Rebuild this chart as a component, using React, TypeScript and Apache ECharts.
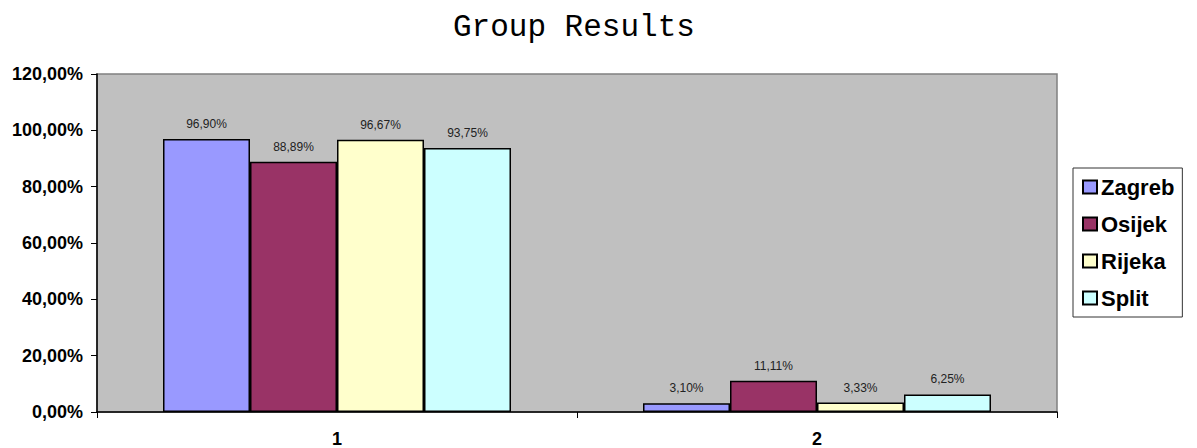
import React, { useEffect, useRef } from "react";
import * as echarts from "echarts";

const categories = ["1", "2"];
const seriesNames = ["Zagreb", "Osijek", "Rijeka", "Split"];
const zagreb = [96.9, 3.1];
const osijek = [88.89, 11.11];
const rijeka = [96.67, 3.33];
const split = [93.75, 6.25];
const colors = ["#9999FF", "#993366", "#FFFFCC", "#CCFFFF"];

const fmt = (v: number) => v.toFixed(2).replace(".", ",") + "%";

export default function App() {
  const ref = useRef<HTMLDivElement>(null);
  useEffect(() => {
    const chart = echarts.init(ref.current!, null, { renderer: "svg" });
    const values = [zagreb, osijek, rijeka, split];
    chart.setOption({
      animation: false,
      backgroundColor: "#ffffff",
      title: {
        text: "Group Results",
        left: 453,
        top: 12,
        padding: 0,
        textStyle: {
          fontFamily: "Liberation Mono",
          fontSize: 31,
          fontWeight: "normal",
          color: "#000",
        },
      },
      legend: {
        orient: "vertical",
        left: 1073,
        top: 168,
        padding: [8, 8, 8, 9],
        itemGap: 15,
        itemWidth: 14,
        itemHeight: 13,
        icon: "rect",
        borderColor: "#333",
        borderWidth: 1,
        backgroundColor: "#fff",
        textStyle: {
          fontFamily: "Liberation Sans, Arial",
          fontSize: 22,
          fontWeight: "bold",
          color: "#000",
          padding: [0, 0, 0, -1],
          lineHeight: 21,
        },
        data: seriesNames,
      },
      grid: {
        left: 97,
        top: 74,
        width: 960,
        height: 339,
        show: true,
        backgroundColor: "#C0C0C0",
        borderColor: "#808080",
        borderWidth: 1.5,
      },
      xAxis: {
        type: "category",
        data: categories,
        axisLine: { lineStyle: { color: "#000", width: 1.5 } },
        axisTick: { show: true, length: 6, lineStyle: { color: "#000" } },
        axisLabel: {
          margin: 18,
          fontFamily: "Liberation Sans, Arial",
          fontSize: 18,
          fontWeight: "bold",
          color: "#000",
        },
      },
      yAxis: {
        type: "value",
        min: 0,
        max: 120,
        interval: 20,
        splitLine: { show: false },
        axisLine: { show: true, lineStyle: { color: "#000", width: 1.5 } },
        axisTick: { show: true, length: 6, lineStyle: { color: "#000" } },
        axisLabel: {
          margin: 14,
          formatter: (v: number) => fmt(v),
          fontFamily: "Liberation Sans, Arial",
          fontSize: 18,
          fontWeight: "bold",
          color: "#000",
        },
      },
      series: seriesNames.map((name, i) => ({
        name,
        type: "bar",
        data: values[i],
        barGap: "0%",
        barCategoryGap: "27.5%",
        itemStyle: { color: colors[i], borderColor: "#000", borderWidth: 1.5 },
        label: {
          show: true,
          position: "top",
          distance: 9,
          formatter: (p: any) => fmt(p.value),
          fontFamily: "Liberation Sans, Arial",
          fontSize: 12,
          color: "#222",
        },
      })),
    });
    return () => chart.dispose();
  }, []);
  return (
    <div
      ref={ref}
      style={{ position: "fixed", left: 0, top: 0, width: 1197, height: 448 }}
    />
  );
}
